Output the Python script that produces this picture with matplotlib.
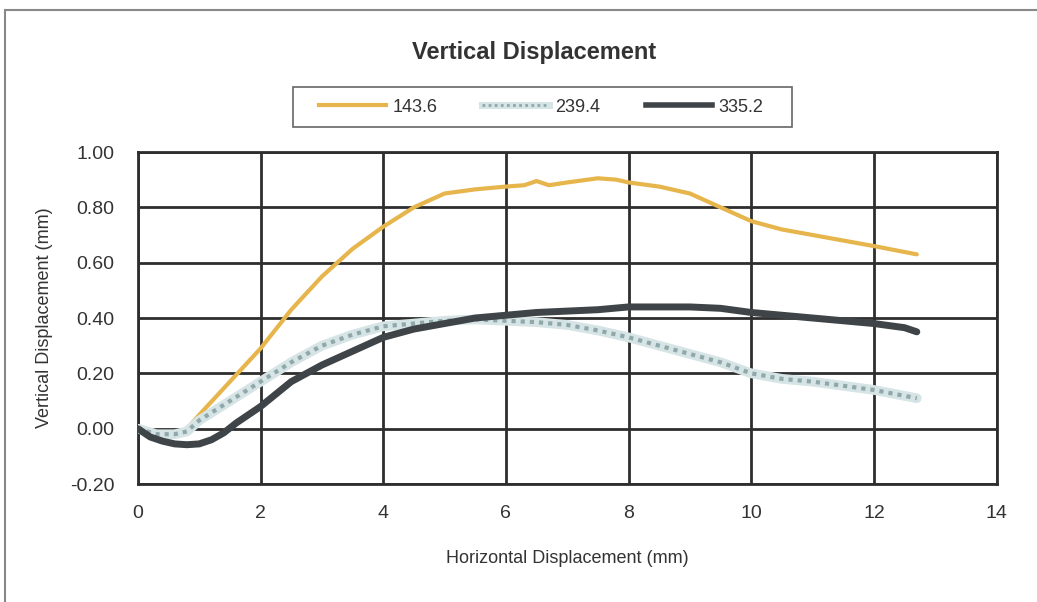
import matplotlib.pyplot as plt
from matplotlib.lines import Line2D
from matplotlib.patches import Rectangle

plt.rcParams['font.family'] = ['Liberation Sans', 'DejaVu Sans']

# 143.6 series
x_a = [0.8, 1.0, 1.5, 2.0, 2.5, 3.0, 3.5, 4.0, 4.5, 5.0, 5.5, 6.0, 6.3, 6.5, 6.7, 7.0,
       7.5, 7.8, 8.0, 8.5, 9.0, 9.5, 10.0, 10.5, 11.0, 11.5, 12.0, 12.7]
y_a = [0.00, 0.05, 0.17, 0.29, 0.43, 0.55, 0.65, 0.73, 0.80, 0.85, 0.865, 0.875, 0.88, 0.895,
       0.88, 0.89, 0.905, 0.90, 0.89, 0.875, 0.85, 0.80, 0.75, 0.72, 0.70, 0.68, 0.66, 0.63]

# 239.4 series
x_b = [0.0, 0.3, 0.6, 0.8, 1.0, 1.5, 2.0, 2.5, 3.0, 3.5, 4.0, 4.5, 5.0, 5.5, 6.0, 6.5,
       7.0, 7.5, 8.0, 8.5, 9.0, 9.5, 10.0, 10.5, 11.0, 11.5, 12.0, 12.7]
y_b = [0.00, -0.02, -0.02, -0.01, 0.03, 0.10, 0.17, 0.24, 0.30, 0.34, 0.37, 0.38, 0.39, 0.395,
       0.39, 0.385, 0.375, 0.355, 0.33, 0.30, 0.27, 0.24, 0.20, 0.18, 0.17, 0.155, 0.14, 0.11]

# 335.2 series
x_c = [0.0, 0.2, 0.4, 0.6, 0.8, 1.0, 1.2, 1.4, 1.6, 2.0, 2.5, 3.0, 3.5, 4.0, 4.5, 5.0, 5.5, 6.0, 6.5,
       7.0, 7.5, 8.0, 8.5, 9.0, 9.5, 10.0, 10.5, 11.0, 11.5, 12.0, 12.5, 12.7]
y_c = [0.00, -0.03, -0.045, -0.055, -0.058, -0.055, -0.04, -0.015, 0.02, 0.08, 0.17, 0.23, 0.28,
       0.33, 0.36, 0.38, 0.40, 0.41, 0.42, 0.425, 0.43, 0.44, 0.44, 0.44, 0.435, 0.42, 0.41, 0.40,
       0.39, 0.38, 0.365, 0.35]

labels = ['143.6', '239.4', '335.2']
y_ticks = [-0.20, 0.00, 0.20, 0.40, 0.60, 0.80, 1.00]
x_ticks = [0, 2, 4, 6, 8, 10, 12, 14]

col_a = '#e6b54c'
col_b_fill = '#d6e4e6'
col_b_dot = '#8fa8aa'
col_c = '#3e4447'
grid_col = '#2e2e2e'

fig = plt.figure(figsize=(10.37, 6.02), dpi=100)
ax = fig.add_axes([0.133, 0.196, 0.828, 0.5515])

ax.plot(x_a, y_a, color=col_a, lw=3, solid_capstyle='round', zorder=3)
ax.plot(x_b, y_b, color=col_b_fill, lw=7, solid_capstyle='round', zorder=3)
ax.plot(x_b, y_b, color=col_b_dot, lw=3, linestyle=(0, (1, 1.2)), zorder=3)
ax.plot(x_c, y_c, color=col_c, lw=5, solid_capstyle='round', solid_joinstyle='round', zorder=4)

ax.set_xlim(0, 14)
ax.set_ylim(-0.2, 1.0)
ax.set_xticks(x_ticks)
ax.set_yticks(y_ticks)
ax.set_yticklabels(['%.2f' % v for v in y_ticks])
ax.tick_params(labelsize=14, colors='#333333', length=0)
ax.tick_params(axis='x', pad=15)
ax.tick_params(axis='y', pad=17)
ax.grid(True, color=grid_col, lw=2, zorder=1)
for s in ax.spines.values():
    s.set_color(grid_col)
    s.set_linewidth(2)

ax.set_xlabel('Horizontal Displacement (mm)', fontsize=13, color='#333333', labelpad=20)
ax.set_ylabel('Vertical Displacement (mm)', fontsize=13, color='#333333', labelpad=12)

fig.text(0.515, 0.912, 'Vertical Displacement', ha='center', va='center',
         fontsize=17, fontweight='bold', color='#333333')

# legend (frame drawn separately, wider than the entries)
handles = [Line2D([], [], color=col_a, lw=3),
           (Line2D([], [], color=col_b_fill, lw=5), Line2D([], [], color=col_b_dot, lw=2, linestyle=(0, (1, 1.2)))),
           Line2D([], [], color=col_c, lw=4)]
leg = fig.legend(handles, labels, loc='center', bbox_to_anchor=(0.522, 0.822), ncol=3,
                 fontsize=13, frameon=False, handlelength=3.7, columnspacing=2.5,
                 handletextpad=0.35, borderaxespad=0)
for t in leg.get_texts():
    t.set_color('#333333')
fig.patches.append(Rectangle((0.2825, 0.789), 0.481, 0.0664, transform=fig.transFigure,
                             fill=False, edgecolor='#666666', lw=1.2))

# outer chart frame
fig.patches.append(Rectangle((0.005, -0.05), 1.1, 1.033, transform=fig.transFigure,
                             fill=False, edgecolor='#888888', lw=1.5))

fig.savefig('out.png', dpi=100)
